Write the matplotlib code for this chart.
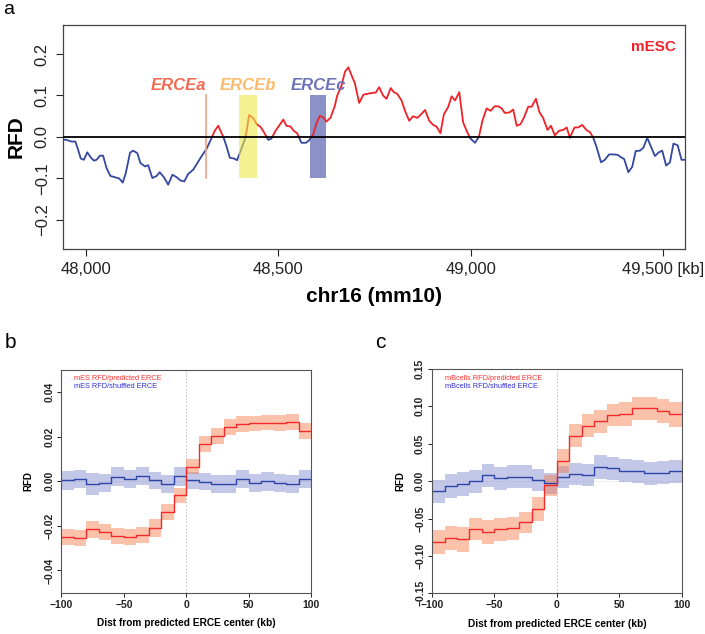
import numpy as np
import matplotlib

matplotlib.use("Agg")
import matplotlib.pyplot as plt

plt.rcParams["font.family"] = ["Liberation Sans", "DejaVu Sans"]
plt.rcParams["axes.unicode_minus"] = True

# ---- panel a : RFD along chr16 (kb) ----
POS_KB = [
    47941, 47950, 47963, 47973, 47980, 47987, 47995, 48004, 48012, 48021,
    48028, 48037, 48045, 48054, 48064, 48076, 48087, 48096, 48104, 48115,
    48123, 48134, 48142, 48154, 48162, 48173, 48184, 48192, 48203, 48214,
    48225, 48236, 48246, 48256, 48266, 48279, 48289, 48301, 48314, 48327,
    48335, 48344, 48353, 48357, 48366, 48374, 48385, 48393, 48402, 48413,
    48418, 48424, 48435, 48444, 48454, 48463, 48474, 48482, 48494, 48502,
    48513, 48521, 48532, 48540, 48549, 48560, 48572, 48580, 48591, 48599,
    48608, 48617, 48625, 48636, 48647, 48653, 48664, 48673, 48682, 48690,
    48699, 48710, 48721, 48731, 48742, 48753, 48762, 48772, 48781, 48792,
    48800, 48809, 48820, 48829, 48840, 48850, 48861, 48869, 48881, 48892,
    48902, 48911, 48921, 48930, 48941, 48950, 48959, 48970, 48980, 48989,
    48998, 49011, 49021, 49030, 49041, 49051, 49062, 49071, 49080, 49088,
    49100, 49110, 49119, 49129, 49138, 49149, 49158, 49169, 49178, 49188,
    49199, 49208, 49218, 49229, 49240, 49249, 49257, 49269, 49279, 49289,
    49301, 49309, 49318, 49327, 49338, 49348, 49359, 49370, 49381, 49390,
    49398, 49409, 49419, 49428, 49439, 49448, 49458, 49468, 49478, 49488,
    49497, 49507, 49517, 49526, 49537, 49547, 49556,
]
RFD = [
    -0.006, -0.007, -0.011, -0.011, -0.030, -0.052, -0.055, -0.037, -0.048, -0.057,
    -0.055, -0.045, -0.045, -0.075, -0.094, -0.097, -0.100, -0.110, -0.087, -0.038,
    -0.033, -0.039, -0.063, -0.071, -0.068, -0.099, -0.094, -0.085, -0.097, -0.115,
    -0.091, -0.097, -0.105, -0.107, -0.089, -0.079, -0.064, -0.046, -0.028, -0.002,
    0.015, 0.027, 0.009, 0.001, -0.024, -0.050, -0.052, -0.056, -0.034, -0.006,
    0.015, 0.053, 0.045, 0.031, 0.024, 0.011, -0.007, -0.004, 0.017, 0.027,
    0.042, 0.027, 0.025, 0.015, 0.009, -0.014, -0.014, -0.008, 0.007, 0.033,
    0.051, 0.047, 0.037, 0.047, 0.076, 0.100, 0.123, 0.157, 0.168, 0.149,
    0.129, 0.082, 0.102, 0.104, 0.106, 0.107, 0.120, 0.100, 0.092, 0.118,
    0.108, 0.104, 0.088, 0.063, 0.039, 0.050, 0.046, 0.053, 0.065, 0.039,
    0.029, 0.025, 0.009, 0.055, 0.072, 0.098, 0.088, 0.108, 0.035, 0.015,
    -0.003, -0.014, 0.001, 0.039, 0.069, 0.063, 0.074, 0.074, 0.069, 0.058,
    0.059, 0.066, 0.027, 0.031, 0.047, 0.073, 0.073, 0.092, 0.060, 0.045,
    0.017, 0.027, 0.004, 0.015, 0.017, 0.023, -0.002, 0.023, 0.023, 0.029,
    0.016, 0.012, -0.002, -0.026, -0.061, -0.055, -0.042, -0.042, -0.043, -0.049,
    -0.053, -0.085, -0.072, -0.034, -0.033, -0.026, -0.002, -0.024, -0.046, -0.037,
    -0.033, -0.069, -0.061, -0.016, -0.020, -0.055, -0.055,
]
ERCE_A_KB = 48312
ERCE_B_KB = (48398, 48445)
ERCE_C_KB = (48583, 48623)

# ---- panels b / c : binned mean RFD around predicted ERCE (10 kb bins) ----
BIN_EDGES = np.arange(-100, 101, 10)
MES_PRED = [-0.0251, -0.0255, -0.0215, -0.0227, -0.0245, -0.0248, -0.0240, -0.0209, -0.0137, -0.0063,
            0.0066, 0.0167, 0.0204, 0.0242, 0.0257, 0.0260, 0.0264, 0.0261, 0.0266, 0.0228]
MES_PRED_ERR = [0.0037, 0.0037, 0.0039, 0.0037, 0.0036, 0.0036, 0.0036, 0.0039, 0.0035, 0.0035,
                0.0035, 0.0037, 0.0037, 0.0036, 0.0035, 0.0035, 0.0035, 0.0035, 0.0037, 0.0036]
MES_SHUF = [0.0004, 0.0010, -0.0013, -0.0007, 0.0021, 0.0009, 0.0024, 0.0004, -0.0013, 0.0022,
            0.0004, -0.0001, -0.0012, -0.0013, 0.0009, -0.0007, 0.0001, -0.0006, -0.0013, 0.0010]
MES_SHUF_ERR = [0.0042, 0.0040, 0.0049, 0.0042, 0.0043, 0.0040, 0.0041, 0.0040, 0.0040, 0.0041,
                0.0040, 0.0040, 0.0041, 0.0041, 0.0041, 0.0042, 0.0043, 0.0040, 0.0041, 0.0041]
MB_PRED = [-0.0819, -0.0761, -0.0775, -0.0641, -0.0681, -0.0645, -0.0628, -0.0552, -0.0369, -0.0058,
           0.0272, 0.0610, 0.0739, 0.0801, 0.0886, 0.0899, 0.0975, 0.0975, 0.0943, 0.0894]
MB_PRED_ERR = [0.0160, 0.0156, 0.0167, 0.0150, 0.0155, 0.0150, 0.0155, 0.0145, 0.0158, 0.0140,
               0.0160, 0.0156, 0.0155, 0.0155, 0.0150, 0.0158, 0.0155, 0.0155, 0.0162, 0.0165]
MB_SHUF = [-0.0138, -0.0062, -0.0036, 0.0000, 0.0076, 0.0036, 0.0062, 0.0062, 0.0018, -0.0027,
           0.0053, 0.0098, 0.0080, 0.0187, 0.0174, 0.0138, 0.0129, 0.0107, 0.0111, 0.0129]
MB_SHUF_ERR = [0.0156, 0.0160, 0.0160, 0.0155, 0.0150, 0.0155, 0.0155, 0.0155, 0.0145, 0.0142,
               0.0145, 0.0150, 0.0150, 0.0160, 0.0155, 0.0152, 0.0155, 0.0155, 0.0155, 0.0150]

RED = "#EE2229"
BLUE = "#33479E"


def split_sign(x, y):
    xs, ys = [x[0]], [y[0]]
    for i in range(1, len(x)):
        if y[i - 1] * y[i] < 0:
            t = y[i - 1] / (y[i - 1] - y[i])
            xs.append(x[i - 1] + t * (x[i] - x[i - 1]))
            ys.append(0.0)
        xs.append(x[i]); ys.append(y[i])
    xs, ys = np.array(xs, float), np.array(ys, float)
    return xs, np.where(ys >= 0, ys, np.nan), np.where(ys <= 0, ys, np.nan)


def step_panel(ax, pred, pred_err, shuf, shuf_err, ylim, yticks, labels, ylab_x, leg_y):
    e = BIN_EDGES
    for vals, err, lc, fc, fa in ((shuf, shuf_err, "#2D44A8", "#5560BE", 0.35),
                                  (pred, pred_err, "#F22A2A", "#F57846", 0.45)):
        v = np.append(vals, vals[-1])
        r = np.append(err, err[-1])
        ax.fill_between(e, v - r, v + r, step="post", color=fc, alpha=fa, lw=0)
        ax.step(e, v, where="post", color=lc, lw=1.0)
    ax.axvline(0, color="#BBBBBB", lw=0.6, ls=(0, (2, 2)), zorder=0)
    ax.axhline(0, color="#DDDDDD", lw=0.6, ls=(0, (2, 2)), zorder=0)
    ax.set_xlim(-100, 100)
    ax.set_ylim(*ylim)
    ax.set_xticks([-100, -50, 0, 50, 100])
    ax.set_yticks(yticks)
    ax.set_yticklabels([f"{t:.2f}".replace("-", "\u2212") for t in yticks],
                       rotation=90, va="center")
    ax.tick_params(labelsize=7.5, length=3, width=0.7, pad=2, colors="#222222")
    for t in ax.get_xticklabels() + ax.get_yticklabels():
        t.set_fontweight("bold")
    for s in ax.spines.values():
        s.set_color("#555555"); s.set_linewidth(0.8)
    ax.set_xlabel("Dist from predicted ERCE center (kb)", fontsize=7.3, fontweight="bold")
    ax.set_ylabel("RFD", fontsize=7, fontweight="bold")
    ax.xaxis.set_label_coords(0.5, -0.113)
    ax.yaxis.set_label_coords(ylab_x, 0.5)
    ax.text(0.052, leg_y[0], labels[0], transform=ax.transAxes, color="#FF3030",
            fontsize=5.3, va="center")
    ax.text(0.05, leg_y[1], labels[1], transform=ax.transAxes, color="#3030D8",
            fontsize=5.3, va="center")


fig = plt.figure(figsize=(7.05, 6.34), dpi=100)

# panel a
ax = fig.add_axes([0.0894, 0.6073, 0.8822, 0.3533])
xs, pos, neg = split_sign(POS_KB, RFD)
ax.add_patch(plt.Rectangle((ERCE_C_KB[0], -0.1), ERCE_C_KB[1] - ERCE_C_KB[0], 0.2,
                           color="#8A92C8", lw=0, zorder=1))
ax.plot(xs, neg, color=BLUE, lw=1.3, zorder=2)
ax.plot(xs, pos, color=RED, lw=1.3, zorder=2)
ax.add_patch(plt.Rectangle((ERCE_B_KB[0], -0.1), ERCE_B_KB[1] - ERCE_B_KB[0], 0.2,
                           color="#EEE84A", alpha=0.6, lw=0, zorder=3))
ax.plot([ERCE_A_KB, ERCE_A_KB], [-0.1, 0.1], color="#F4A085", lw=1.2, zorder=3)
ax.axhline(0, color="black", lw=1.3, zorder=4)
ax.text(ERCE_A_KB, 0.107, "ERCEa", ha="right", va="bottom", color="#F26B50",
        fontsize=12, fontweight="bold", style="italic")
ax.text(sum(ERCE_B_KB) / 2, 0.107, "ERCEb", ha="center", va="bottom", color="#FDBA6B",
        fontsize=12, fontweight="bold", style="italic")
ax.text(sum(ERCE_C_KB) / 2, 0.107, "ERCEc", ha="center", va="bottom", color="#6C74B8",
        fontsize=12, fontweight="bold", style="italic")
ax.text(0.9855, 0.902, "mESC", transform=ax.transAxes, ha="right", va="center",
        color="#F0202A", fontsize=11, fontweight="bold")
ax.set_xlim(47941, 49556)
ax.set_ylim(-0.27, 0.27)
ax.set_xticks([48000, 48500, 49000, 49500])
ax.set_xticklabels(["48,000", "48,500", "49,000", "49,500 [kb]"])
ax.set_yticks([-0.2, -0.1, 0.0, 0.1, 0.2])
ax.set_yticklabels(["\u22120.2", "\u22120.1", "0.0", "0.1", "0.2"], rotation=90, va="center")
ax.tick_params(labelsize=12, length=5, width=0.8, pad=4.5, colors="#222222")
for s in ax.spines.values():
    s.set_color("#444444"); s.set_linewidth(0.9)
ax.set_xlabel("chr16 (mm10)", fontsize=15, fontweight="bold")
ax.set_ylabel("RFD", fontsize=15, fontweight="bold")
ax.xaxis.set_label_coords(0.5, -0.17)
ax.yaxis.set_label_coords(-0.06, 0.5)

# panel b
axb = fig.add_axes([0.087, 0.0652, 0.3546, 0.3512])
step_panel(axb, MES_PRED, MES_PRED_ERR, MES_SHUF, MES_SHUF_ERR, (-0.05, 0.05),
           [-0.04, -0.02, 0.0, 0.02, 0.04],
           ["mES RFD/predicted ERCE", "mES RFD/shuffled ERCE"], -0.112, (0.963, 0.925))

# panel c
axc = fig.add_axes([0.6128, 0.0642, 0.3542, 0.3538])
step_panel(axc, MB_PRED, MB_PRED_ERR, MB_SHUF, MB_SHUF_ERR, (-0.15, 0.15),
           [-0.15, -0.10, -0.05, 0.0, 0.05, 0.10, 0.15],
           ["mBcells RFD/predicted ERCE", "mBcells RFD/shuffled ERCE"], -0.108, (0.958, 0.921))

fig.text(9 / 705, 1 - 10 / 634, "a", fontsize=14, ha="center", va="center")
fig.text(10 / 705, 1 - 343 / 634, "b", fontsize=15, ha="center", va="center")
fig.text(380 / 705, 1 - 343 / 634, "c", fontsize=15, ha="center", va="center")

fig.savefig("out.png", dpi=100)
